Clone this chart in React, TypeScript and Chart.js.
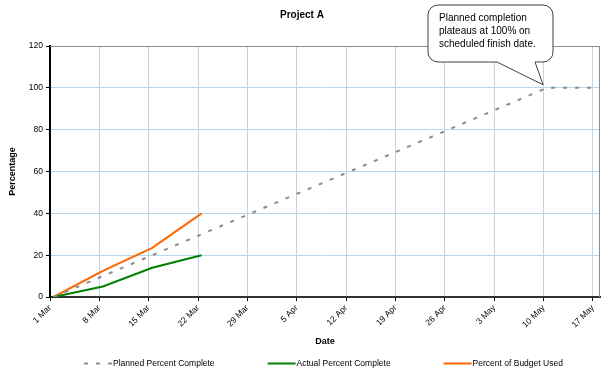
import React, { useEffect, useRef } from "react";
import { Chart, registerables } from "chart.js";

Chart.register(...registerables);

// ---- data ----
const tickLabels = ["1 Mar", "8 Mar", "15 Mar", "22 Mar", "29 Mar", "5 Apr", "12 Apr", "19 Apr", "26 Apr", "3 May", "10 May", "17 May"];
const axisStart = "1 Mar";
const axisEnd = "18 May";
const plannedDates = ["1 Mar", "8 Mar", "15 Mar", "22 Mar", "29 Mar", "5 Apr", "12 Apr", "19 Apr", "26 Apr", "3 May", "10 May", "17 May"];
const plannedValues = [0, 10, 20, 30, 40, 50, 60, 70, 80, 90, 100, 100];
const actualDates = ["1 Mar", "8 Mar", "15 Mar", "22 Mar"];
const actualValues = [0, 5, 14, 20];
const budgetDates = ["1 Mar", "8 Mar", "15 Mar", "22 Mar"];
const budgetValues = [0, 12.5, 23.5, 40];
const yMin = 0;
const yMax = 120;
const yStep = 20;
const seriesNames = ["Planned Percent Complete", "Actual Percent Complete", "Percent of Budget Used"];
const titleText = "Project A";
const xTitle = "Date";
const yTitle = "Percentage";
const calloutLines = ["Planned completion", "plateaus at 100% on", "scheduled finish date."];
const calloutDate = "10 May";
const calloutValue = 100;

const monthStart: Record<string, number> = { Mar: 0, Apr: 31, May: 61 };
function dayOf(label: string): number {
  const [d, m] = label.split(" ");
  return monthStart[m] + Number(d) - 1;
}
// Excel date axis: each day is a slot, points sit in the middle of their day
const toPoints = (dates: string[], vals: number[]) => dates.map((d, i) => ({ x: dayOf(d) + 0.5, y: vals[i] }));

const FONT = '"Liberation Sans", Arial, Helvetica, sans-serif';
const GRID = "#b9d6ea";

const decor = {
  id: "decor",
  beforeDatasetsDraw(chart: any) {
    const { ctx, chartArea: a } = chart;
    ctx.save();
    ctx.strokeStyle = "#8c8c8c";
    ctx.lineWidth = 1;
    ctx.beginPath();
    ctx.moveTo(a.left, a.top + 0.5);
    ctx.lineTo(a.right - 0.5, a.top + 0.5);
    ctx.lineTo(a.right - 0.5, a.bottom);
    ctx.stroke();
    ctx.restore();
  },
  afterDraw(chart: any) {
    const { ctx } = chart;
    ctx.save();
    // title
    ctx.fillStyle = "#000";
    ctx.font = `bold 10px ${FONT}`;
    ctx.textAlign = "center";
    ctx.textBaseline = "middle";
    ctx.fillText(titleText, 302, 15);

    // legend
    ctx.font = `8.5px ${FONT}`;
    ctx.textAlign = "left";
    let cx = 84;
    const ly = 363.5;
    chart.data.datasets.forEach((ds: any) => {
      ctx.beginPath();
      ctx.strokeStyle = ds.borderColor;
      ctx.lineWidth = ds.borderWidth;
      ctx.setLineDash(ds.borderDash || []);
      ctx.moveTo(cx, ly);
      ctx.lineTo(cx + 28, ly);
      ctx.stroke();
      ctx.setLineDash([]);
      ctx.fillStyle = "#000";
      ctx.fillText(ds.label, cx + 29, ly);
      cx += 29 + ctx.measureText(ds.label).width + 53;
    });

    // callout
    const xs = chart.scales.x;
    const ys = chart.scales.y;
    const tipX = xs.getPixelForValue(dayOf(calloutDate) + 0.5) - 4;
    const tipY = ys.getPixelForValue(calloutValue) - 3;
    const bx = 428, by = 5, bw = 125, bh = 57, r = 10;
    ctx.beginPath();
    ctx.moveTo(bx + r, by);
    ctx.lineTo(bx + bw - r, by);
    ctx.arcTo(bx + bw, by, bx + bw, by + r, r);
    ctx.lineTo(bx + bw, by + bh - r);
    ctx.arcTo(bx + bw, by + bh, bx + bw - r, by + bh, r);
    ctx.lineTo(535, by + bh);
    ctx.lineTo(tipX, tipY);
    ctx.lineTo(497, by + bh);
    ctx.lineTo(bx + r, by + bh);
    ctx.arcTo(bx, by + bh, bx, by + bh - r, r);
    ctx.lineTo(bx, by + r);
    ctx.arcTo(bx, by, bx + r, by, r);
    ctx.closePath();
    ctx.fillStyle = "#fff";
    ctx.fill();
    ctx.strokeStyle = "#404040";
    ctx.lineWidth = 1;
    ctx.stroke();
    ctx.fillStyle = "#000";
    ctx.font = `10px ${FONT}`;
    ctx.textAlign = "left";
    ctx.textBaseline = "middle";
    calloutLines.forEach((t, i) => ctx.fillText(t, 439, 18.5 + i * 13));
    ctx.restore();
  },
};

export default function App() {
  const ref = useRef<HTMLCanvasElement>(null);
  useEffect(() => {
    document.body.style.margin = "0";
    Chart.defaults.font.family = FONT;
    Chart.defaults.color = "#000";
    const chart = new Chart(ref.current!, {
      type: "line",
      data: {
        datasets: [
          {
            label: seriesNames[0],
            data: toPoints(plannedDates, plannedValues),
            borderColor: "#8c8c8c",
            borderWidth: 2,
            borderDash: [4, 8],
            pointRadius: 0,
            tension: 0,
          },
          {
            label: seriesNames[1],
            data: toPoints(actualDates, actualValues),
            borderColor: "#008000",
            borderWidth: 2,
            pointRadius: 0,
            tension: 0,
          },
          {
            label: seriesNames[2],
            data: toPoints(budgetDates, budgetValues),
            borderColor: "#ff6600",
            borderWidth: 2,
            pointRadius: 0,
            tension: 0,
          },
        ],
      },
      options: {
        responsive: false,
        animation: false,
        devicePixelRatio: 1,
        layout: { padding: { top: 46, right: 7, left: 0, bottom: 0 } },
        plugins: { legend: { display: false }, title: { display: false }, tooltip: { enabled: false } },
        scales: {
          x: {
            type: "linear",
            min: dayOf(axisStart),
            max: dayOf(axisEnd),
            afterBuildTicks: (axis: any) => {
              axis.ticks = tickLabels.map((l) => ({ value: dayOf(l) }));
            },
            afterFit: (s: any) => {
              s.height = 78;
            },
            ticks: {
              autoSkip: false,
              maxRotation: 45,
              minRotation: 45,
              padding: 2,
              font: { size: 8.5 },
              color: "#000",
              callback: (v: any) => tickLabels.find((l) => dayOf(l) === v) ?? "",
            },
            grid: { color: GRID, lineWidth: 1, tickLength: 4, tickColor: "#000" },
            border: { color: "#333", width: 2 },
            title: { display: true, text: xTitle, font: { size: 9, weight: "bold" }, padding: { top: 0, bottom: 28.5 }, color: "#000" },
          },
          y: {
            min: yMin,
            max: yMax,
            afterFit: (s: any) => {
              s.width = 50;
            },
            ticks: { stepSize: yStep, padding: 3, font: { size: 8.5 }, color: "#000" },
            grid: { color: GRID, lineWidth: 1, tickLength: 4, tickColor: "#000" },
            border: { color: "#000", width: 2 },
            title: { display: true, text: yTitle, font: { size: 9, weight: "bold" }, padding: { top: 7, bottom: 0 }, color: "#000" },
          },
        },
      },
      plugins: [decor],
    } as any);
    return () => chart.destroy();
  }, []);
  return <canvas ref={ref} width={607} height={375} style={{ display: "block" }} />;
}
